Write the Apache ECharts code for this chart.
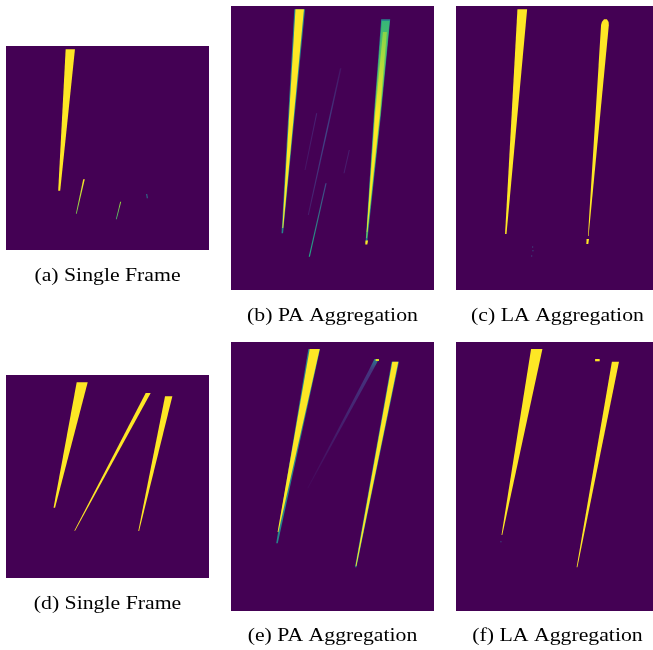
<!DOCTYPE html>
<html>
<head>
<meta charset="utf-8">
<script src="https://cdn.jsdelivr.net/npm/echarts@6/dist/echarts.min.js"></script>
<style>
  html, body { margin: 0; padding: 0; background: #fff; }
  #main { width: 653px; height: 650px; }
</style>
</head>
<body>
<div id="main"></div>
<script>
// one streak = [x top, y top, x bottom, y bottom, width top, width bottom, level top, level bottom]
// x / y are image pixels of the panel, levels are 0..1 on the viridis scale
var singleFrameA = [
  [64.3, 3.3, 53.2, 144.7, 9.3, 2.0, 1, 1],
  [78.0, 133.3, 70.3, 167.7, 1.6, 0.8, 1, 0.8],
  [114.7, 155.7, 110.3, 173.3, 1.0, 0.8, 0.85, 0.7],
  [140.7, 148.0, 141.3, 152.3, 1.0, 1.0, 0.4, 0.4]
];
var paAggregationB = [
  [109.7, 62.3, 94.7, 130.0, 1.4, 1.4, 0.05, 0.2],
  [94.7, 130.0, 77.3, 209.0, 1.4, 1.0, 0.2, 0.07],
  [85.7, 107.3, 74.0, 164.0, 1.0, 1.0, 0.1, 0.05],
  [118.3, 144.0, 113.0, 167.3, 1.0, 1.0, 0.08, 0.08],
  [95.0, 177.3, 78.3, 250.7, 1.2, 1.2, 0.2, 0.6],
  [68.7, 3.3, 51.3, 227.3, 10.7, 1.5, 0.45, 0.45],
  [68.7, 3.3, 51.8, 222.0, 8.5, 0.8, 1, 1],
  [154.7, 13.3, 146.3, 110.0, 9.0, 7.0, 0.45, 0.45],
  [146.3, 110.0, 135.3, 237.3, 7.0, 1.5, 0.45, 0.45],
  [154.7, 15.0, 146.3, 110.0, 7.8, 5.8, 0.66, 0.85],
  [146.3, 110.0, 135.6, 232.0, 5.8, 0.8, 0.85, 0.78],
  [153.9, 26.0, 146.3, 110.0, 4.0, 4.4, 0.82, 1],
  [146.3, 110.0, 136.0, 226.0, 4.4, 0.5, 1, 1],
  [135.8, 234.5, 135.3, 238.5, 2.5, 2.0, 1, 1]
];
var laAggregationC = [
  [68.3, 3.3, 51.3, 228.0, 10.0, 1.5, 1, 1],
  [154.0, 13.3, 153.8, 16.0, 3.0, 7.0, 1, 1],
  [153.8, 16.0, 153.5, 19.0, 7.0, 8.0, 1, 1],
  [153.5, 19.0, 136.3, 230.0, 8.0, 0.6, 1, 1],
  [135.8, 233.0, 135.3, 238.0, 2.5, 2.0, 1, 1],
  [79.0, 240.5, 79.0, 241.5, 1.0, 1.0, 0.3, 0.3],
  [79.3, 244.2, 79.3, 245.2, 1.0, 1.0, 0.3, 0.3],
  [78.0, 249.5, 78.0, 250.5, 1.0, 1.0, 0.3, 0.3]
];
var singleFrameD = [
  [76.2, 7.3, 48.3, 132.7, 11.0, 1.5, 1, 1],
  [142.2, 18.0, 68.7, 155.7, 5.0, 0.8, 1, 1],
  [162.7, 21.3, 132.7, 156.0, 7.3, 0.8, 1, 1]
];
var paAggregationE = [
  [145.7, 17.0, 140.0, 28.0, 4.5, 4.1, 0.4, 0.15],
  [140.0, 28.0, 76.7, 146.3, 4.1, 0.8, 0.15, 0.02],
  [146.3, 17.0, 146.3, 19.0, 3.3, 3.3, 0.95, 0.95],
  [83.2, 7.0, 46.0, 201.3, 11.7, 1.5, 0.45, 0.45],
  [83.7, 7.0, 47.0, 190.0, 10.0, 0.8, 1, 1],
  [164.3, 19.7, 124.7, 225.3, 7.3, 1.5, 0.45, 0.45],
  [164.3, 19.7, 125.0, 224.0, 6.0, 0.8, 1, 1]
];
var laAggregationF = [
  [83.2, 7.0, 47.3, 193.0, 11.7, 0.8, 1, 1],
  [46.3, 199.2, 46.3, 200.2, 1.0, 1.0, 0.3, 0.3],
  [145.7, 17.0, 145.7, 19.3, 4.7, 4.7, 1, 1],
  [164.3, 19.7, 124.7, 225.3, 7.3, 0.8, 1, 1]
];
var captions = ['(a) Single Frame', '(b) PA Aggregation', '(c) LA Aggregation',
                '(d) Single Frame', '(e) PA Aggregation', '(f) LA Aggregation'];
// image extent of each panel, in pixels
var imageWidths = [203, 203, 203, 203, 203, 203];
var imageHeights = [204, 284, 284, 203, 269, 269];

var panels = [singleFrameA, paAggregationB, laAggregationC, singleFrameD, paAggregationE, laAggregationF];

// where each panel sits on the page [left, top] and where its caption goes
var boxes = [[6, 46], [231, 6], [456, 6], [6, 375], [231, 342], [456, 342]];
var captionPos = [[107.5, 276], [332.5, 316], [557.5, 316], [107.5, 604], [332.5, 636], [557.5, 636]];

var VIRIDIS = ['#440154', '#482475', '#414487', '#355f8d', '#2a788e', '#21918c',
               '#22a884', '#44bf70', '#7ad151', '#bddf26', '#fde725'];

function hexRgb(h){
  return [parseInt(h.substr(1, 2), 16), parseInt(h.substr(3, 2), 16), parseInt(h.substr(5, 2), 16)];
}

function viridis(v){
  v = Math.max(0, Math.min(1, v)) * 10;
  var i = Math.min(9, Math.floor(v)), t = v - i;
  var a = hexRgb(VIRIDIS[i]), b = hexRgb(VIRIDIS[i + 1]);
  return 'rgb(' + Math.round(a[0] + (b[0] - a[0]) * t) + ','
    + Math.round(a[1] + (b[1] - a[1]) * t) + ','
    + Math.round(a[2] + (b[2] - a[2]) * t) + ')';
}

function renderStreak(params, api){
  var xt = api.value(0), yt = api.value(1), xb = api.value(2), yb = api.value(3)
  ,wt = api.value(4), wb = api.value(5);
  var pts = [
    api.coord([xt - wt / 2, yt]),
    api.coord([xt + wt / 2, yt]),
    api.coord([xb + wb / 2, yb]),
    api.coord([xb - wb / 2, yb])
  ];
  return {
    type: 'polygon',
    shape: { points: pts },
    style: {
      fill: new echarts.graphic.LinearGradient(0, 0, 0, 1, [
        { offset: 0, color: viridis(api.value(6)) },
        { offset: 1, color: viridis(api.value(7)) }
      ])
    }
  };
}

var grid = [], xAxis = [], yAxis = [], series = [], graphic = [];
panels.forEach(function(streaks, i){
  grid.push({
    left: boxes[i][0], top: boxes[i][1],
    width: imageWidths[i], height: imageHeights[i],
    show: true, backgroundColor: VIRIDIS[0], borderWidth: 0
  });
  xAxis.push({ gridIndex: i, type: 'value', min: 0, max: imageWidths[i], show: false });
  yAxis.push({ gridIndex: i, type: 'value', min: 0, max: imageHeights[i], inverse: true, show: false });
  series.push({
    type: 'custom',
    xAxisIndex: i, yAxisIndex: i,
    renderItem: renderStreak,
    encode: { x: [0, 2], y: [1, 3] },
    clip: true,
    silent: true,
    animation: false,
    data: streaks
  });
  // the captions in the scan are a little wider than the serif face, so stretch them
  graphic.push({
    type: 'text',
    x: captionPos[i][0], y: captionPos[i][1],
    scaleX: 1.17,
    style: {
      text: captions[i],
      font: '18.6px "Liberation Serif"',
      fill: '#000',
      textAlign: 'center',
      textVerticalAlign: 'middle'
    }
  });
});

var chart = echarts.init(document.getElementById('main'));
chart.setOption({
  backgroundColor: '#fff',
  animation: false,
  grid: grid,
  xAxis: xAxis,
  yAxis: yAxis,
  series: series,
  graphic: graphic
});
</script>
</body>
</html>
